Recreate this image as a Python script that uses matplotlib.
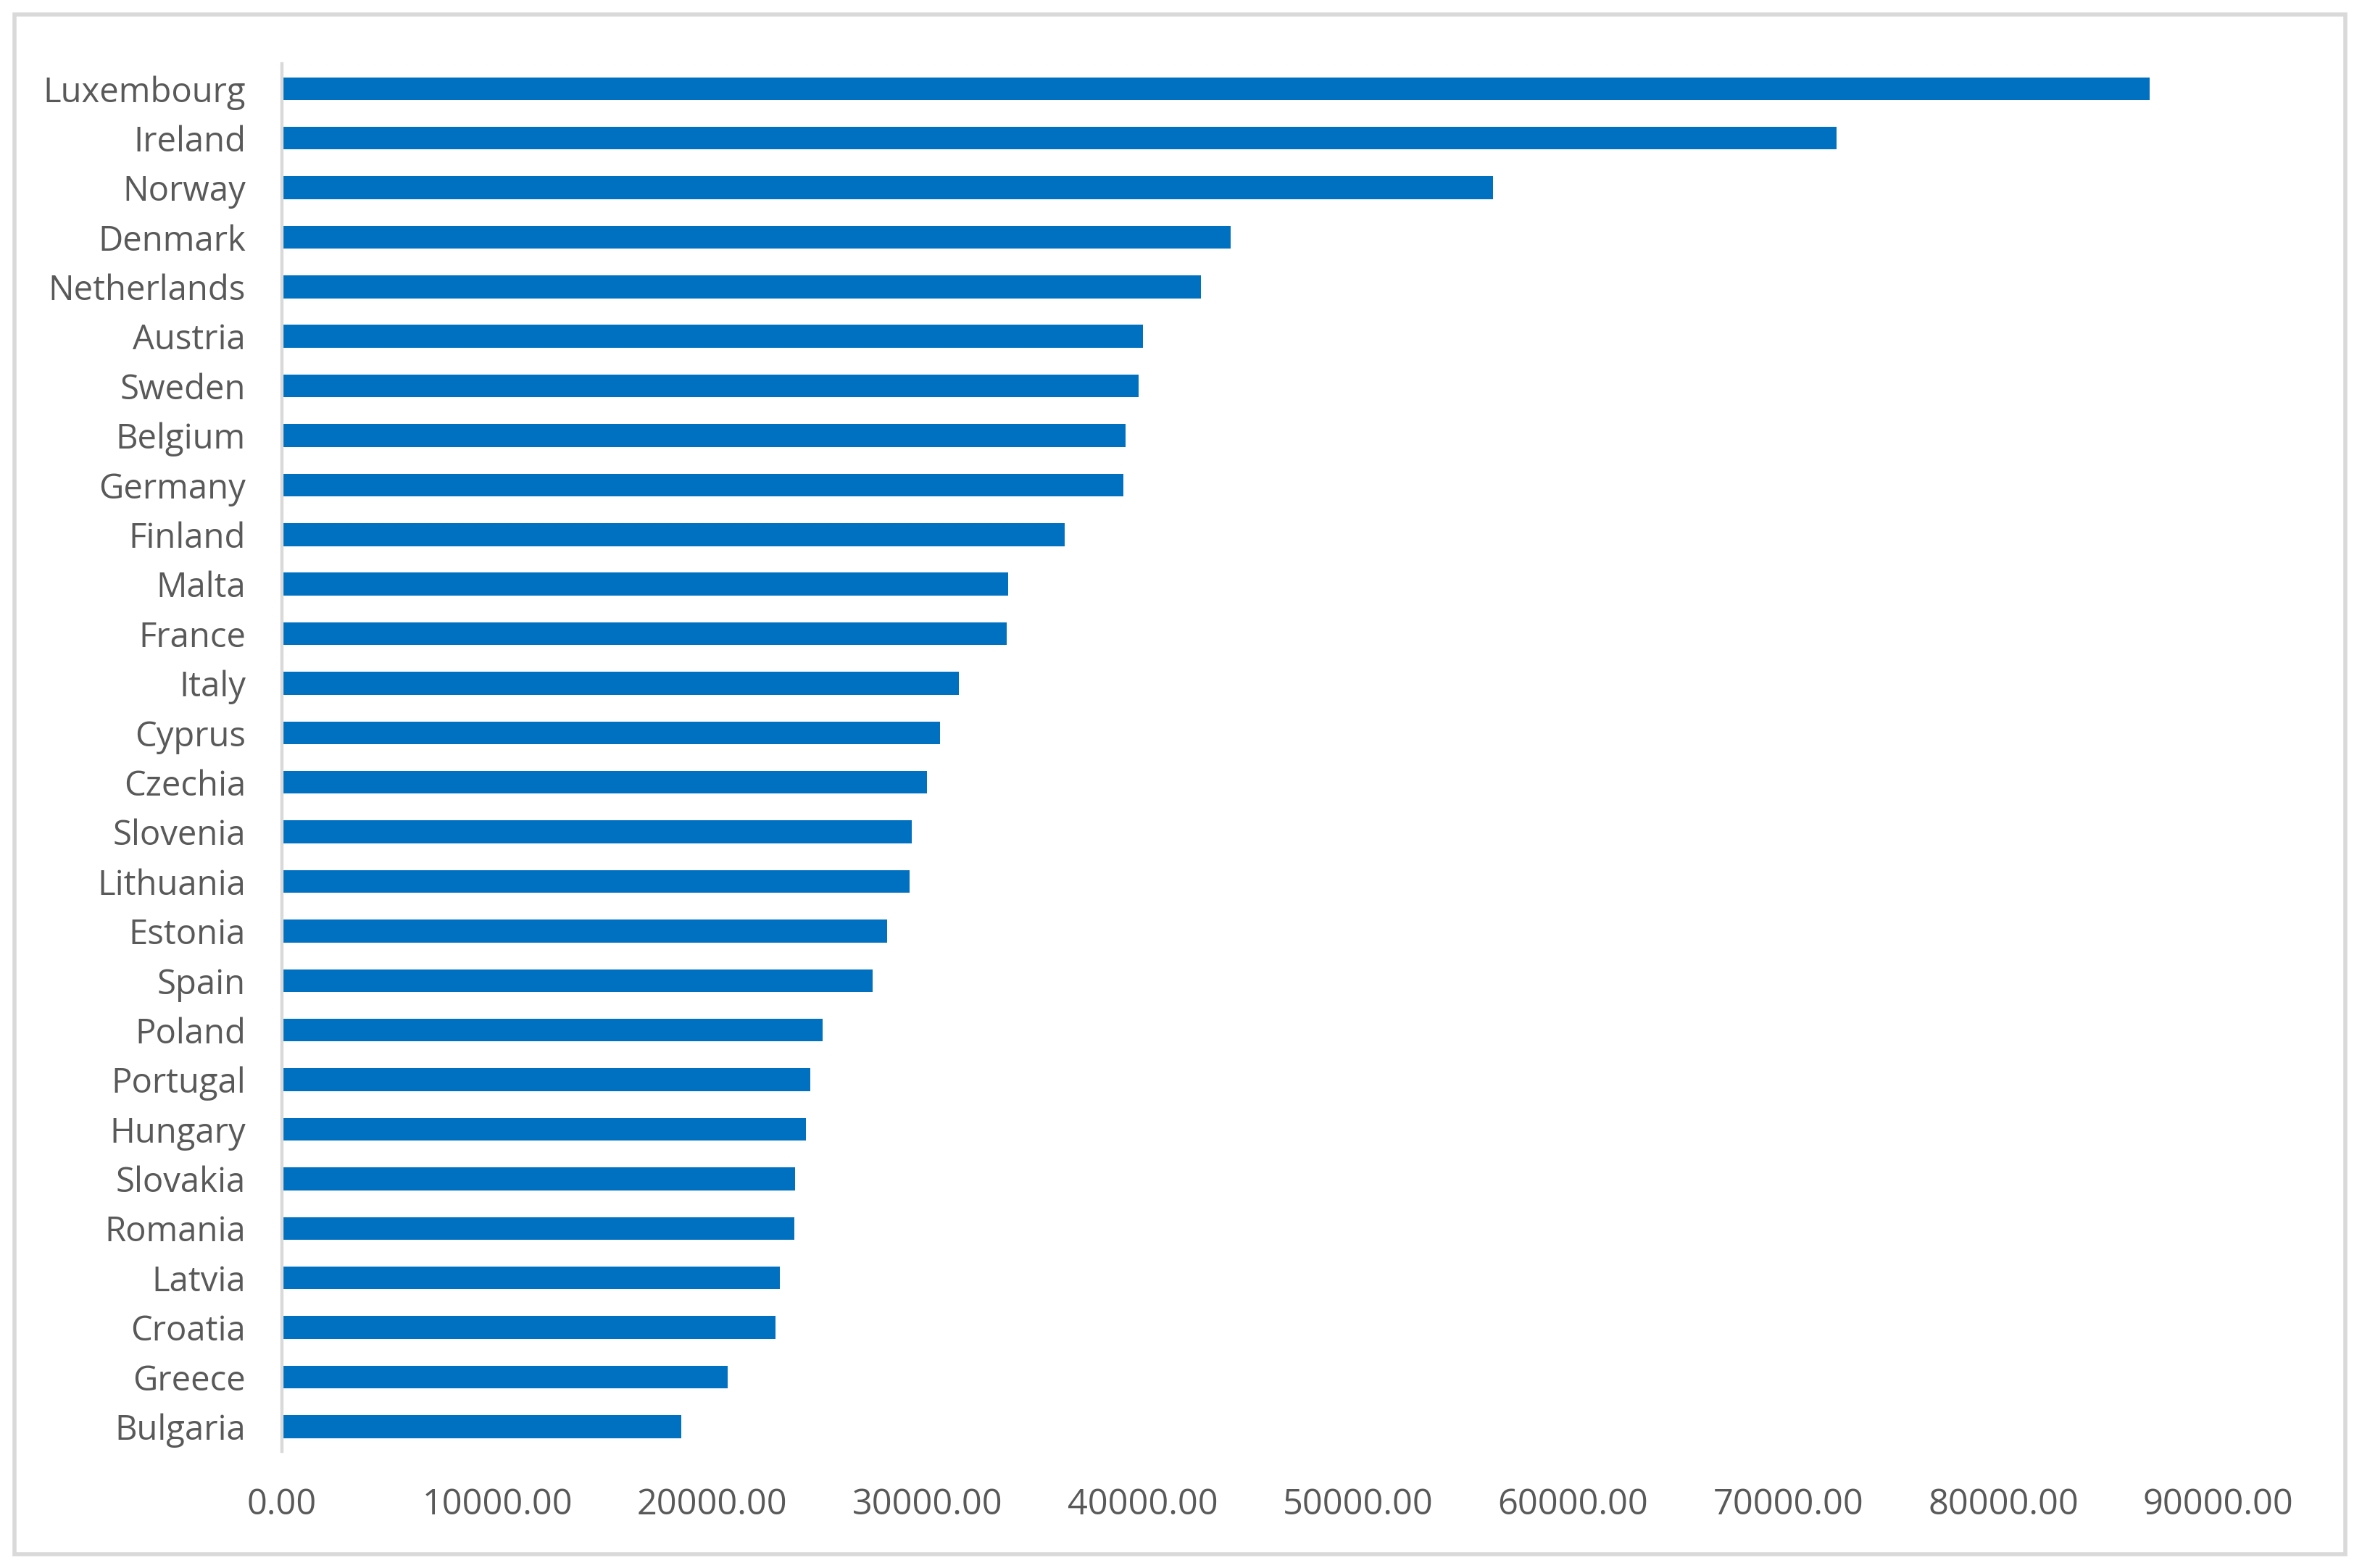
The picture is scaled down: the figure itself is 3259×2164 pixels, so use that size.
import matplotlib
matplotlib.use("Agg")
import matplotlib.pyplot as plt
from matplotlib.patches import Rectangle
from matplotlib.ticker import FuncFormatter

countries = ["Luxembourg", "Ireland", "Norway", "Denmark", "Netherlands", "Austria",
             "Sweden", "Belgium", "Germany", "Finland", "Malta", "France", "Italy",
             "Cyprus", "Czechia", "Slovenia", "Lithuania", "Estonia", "Spain", "Poland",
             "Portugal", "Hungary", "Slovakia", "Romania", "Latvia", "Croatia",
             "Greece", "Bulgaria"]
values = [86800, 72250, 56270, 44100, 42710, 40020, 39810, 39200, 39110, 36390,
          33750, 33680, 31460, 30580, 29960, 29260, 29170, 28130, 27450, 25140,
          24550, 24350, 23850, 23820, 23150, 22940, 20710, 18540]
xticks = [0, 10000, 20000, 30000, 40000, 50000, 60000, 70000, 80000, 90000]

FONT = ["Open Sans", "DejaVu Sans"]
TXT = "#595959"
BAR = "#0070C0"
GRID = "#D9D9D9"

fig = plt.figure(figsize=(32.59, 21.64), dpi=100)
fig.patch.set_facecolor("white")
ax = fig.add_axes([0.1194, 0.0744, 0.9392 - 0.1194, 0.9593 - 0.0744])

pos = list(range(len(countries)))
ax.barh(pos, values, height=0.46, color=BAR, edgecolor="none")
ax.set_ylim(len(countries) - 0.5, -0.5)
ax.set_xlim(0, 90000)
ax.set_yticks(pos)
ax.set_yticklabels(countries, fontfamily=FONT, fontsize=34, color=TXT)
ax.set_xticks(xticks)
ax.xaxis.set_major_formatter(FuncFormatter(lambda v, p: f"{v:.2f}"))
for lab in ax.get_xticklabels():
    lab.set_fontfamily(FONT)
    lab.set_fontsize(35)
    lab.set_color(TXT)
ax.tick_params(axis="y", length=0, pad=36)
ax.tick_params(axis="x", length=0, pad=36)
for s in ["top", "right", "bottom"]:
    ax.spines[s].set_visible(False)
ax.spines["left"].set_color(GRID)
ax.spines["left"].set_linewidth(3.2)

border = Rectangle((0.00614, 0.0087), 0.99294 - 0.00614, 0.99076 - 0.0087,
                   transform=fig.transFigure, fill=False, edgecolor=GRID,
                   linewidth=4, zorder=10)
fig.patches.append(border)

fig.savefig("out.png", dpi=100, facecolor="white")
